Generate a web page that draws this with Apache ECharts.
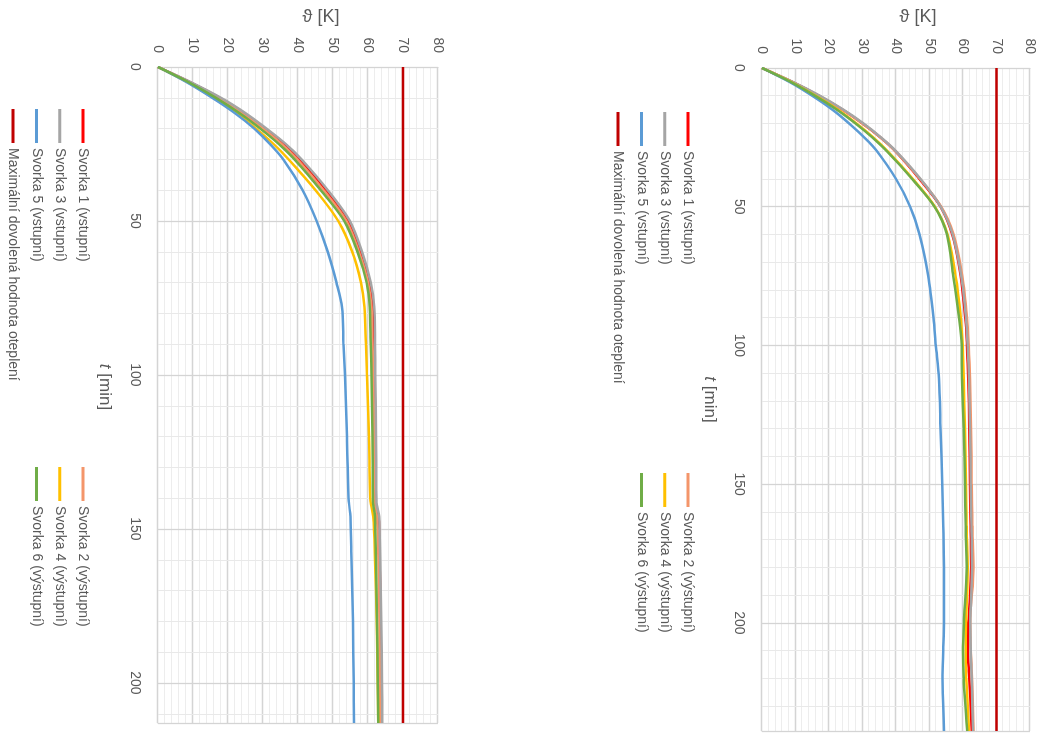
<!DOCTYPE html>
<html>
<head>
<meta charset="utf-8">
<script src="https://cdn.jsdelivr.net/npm/echarts@6/dist/echarts.min.js"></script>
<style>
  html, body { margin: 0; padding: 0; background: #fff; width: 1046px; height: 733px; overflow: hidden; }
  .chart { position: absolute; left: 0; top: 0; width: 733px; transform-origin: 0 0; }
  /* both charts are drawn upright and then turned 90deg clockwise */
  #left { height: 455px; transform: translate(455px, 0) rotate(90deg); }
  #right { height: 456px; transform: translate(1046px, 0) rotate(90deg); }
</style>
</head>
<body>
<div id="left" class="chart"></div>
<div id="right" class="chart"></div>
<script>
const seriesNames = [
  'Svorka 1 (vstupní)',
  'Svorka 2 (výstupní)',
  'Svorka 3 (vstupní)',
  'Svorka 4 (výstupní)',
  'Svorka 5 (vstupní)',
  'Svorka 6 (výstupní)',
  'Maximální dovolená hodnota oteplení',
];
const seriesColors = ['#ff0000', '#f4956a', '#a5a5a5', '#ffc000', '#5b9bd5', '#70ad47', '#c00000'];
const limitValue = 70;

// left chart, t [min]
const timeLeft = [0, 5, 10, 15, 20, 25, 30, 40, 50, 60, 70, 78, 90, 100, 120, 141, 146, 160, 180, 200, 213];
const svorka1Left = [0, 9.3, 17.5, 24.5, 30.5, 36, 40.5, 48, 54.3, 57.8, 60.3, 61.3, 61.6, 61.8, 62.1, 62.2, 63, 63.3, 63.6, 63.7, 63.8];
const svorka2Left = [0, 9, 17, 24, 30, 35.3, 39.8, 47.3, 53.8, 57.4, 60, 61, 61.3, 61.5, 61.8, 61.9, 62.6, 63, 63.3, 63.4, 63.5];
const svorka3Left = [0, 9.5, 18, 25, 31, 36.5, 41, 48.5, 54.8, 58.3, 60.8, 61.8, 62, 62.1, 62.3, 62.4, 63.2, 63.5, 63.8, 64, 64.1];
const svorka4Left = [0, 8.5, 16, 22.5, 28, 33, 37.3, 45, 51.5, 55.5, 58, 59, 59.4, 59.7, 60.3, 60.7, 61.5, 62, 62.5, 62.8, 62.9];
const svorka5Left = [0, 8.3, 15.5, 22, 27.5, 32, 35.8, 41.3, 45.3, 48.5, 51, 52.6, 53, 53.4, 54, 54.5, 55, 55.3, 55.7, 55.9, 56];
const svorka6Left = [0, 8.8, 16.5, 23.3, 29.2, 34.5, 39, 46.5, 53.2, 57, 59.6, 60.5, 60.8, 61, 61.3, 61.4, 62, 62.3, 62.6, 62.8, 62.9];

// right chart, t [min]
const timeRight = [0, 5, 10, 15, 20, 25, 30, 40, 50, 60, 75, 90, 100, 112, 130, 150, 165, 180, 200, 210, 220, 239];
const svorka1Right = [0, 9, 17, 24, 30, 35.3, 39.8, 47, 53.3, 56.8, 59.3, 60.7, 61.2, 61.6, 61.9, 62.1, 62.3, 62.5, 61.6, 61.4, 61.9, 62.6];
const svorka2Right = [0, 9, 17, 24, 30, 35.3, 39.8, 47.2, 53.5, 57.2, 59.8, 61.2, 61.7, 62.1, 62.4, 62.6, 62.8, 63.1, 62.2, 62.3, 62.7, 63.1];
const svorka3Right = [0, 9.2, 17.3, 24.3, 30.3, 35.5, 40, 47.3, 53.3, 56.9, 59.5, 60.9, 61.4, 61.8, 62.1, 62.3, 62.5, 62.7, 62.2, 62.3, 62.6, 63];
const svorka4Right = [0, 8.6, 16, 22.6, 28.2, 33.2, 37.5, 45, 51.6, 55.4, 57.8, 59.3, 59.9, 60.2, 60.6, 60.9, 61.1, 61.4, 60.9, 60.8, 61, 61.8];
const svorka5Right = [0, 8.2, 15, 21, 26, 30.5, 34.3, 40, 44.2, 47, 49.6, 51.2, 51.9, 52.8, 53.3, 53.8, 54.1, 54.3, 54.3, 54.1, 53.9, 54.3];
const svorka6Right = [0, 8.5, 15.8, 22.3, 27.9, 32.9, 37.3, 44.8, 51.5, 55.2, 57.1, 58.8, 59.6, 59.7, 60.2, 60.6, 60.8, 61.1, 60.3, 60, 60.2, 61.3];

const tempTicks = { min: 0, max: 80, interval: 10 };
const timeInterval = 50;

const font = 'Liberation Sans';
const textColor = '#595959';

const makeOption = (times, values, tMax, box) => {
  const series = values.map((vals, i) => ({
    name: seriesNames[i],
    type: 'line',
    xAxisIndex: 1,
    showSymbol: false,
    smooth: 0.3,
    color: seriesColors[i],
    lineStyle: { width: 2.5, color: seriesColors[i] },
    data: times.map((t, k) => [t, vals[k]]),
  }));
  series.push({
    name: seriesNames[6],
    type: 'line',
    xAxisIndex: 1,
    showSymbol: false,
    color: seriesColors[6],
    lineStyle: { width: 2.5, color: seriesColors[6] },
    data: [[0, limitValue], [tMax, limitValue]],
  });

  const legendBase = {
    orient: 'vertical',
    top: box.legendTop,
    icon: 'rect',
    itemWidth: 34,
    itemHeight: 3,
    itemGap: 7.3,
    selectedMode: false,
    textStyle: { color: textColor, fontSize: 14, fontFamily: font, lineHeight: 16 },
  };

  return {
    animation: false,
    grid: box.grid,
    legend: [
      { ...legendBase, left: box.legendLeft[0], data: [seriesNames[0], seriesNames[2], seriesNames[4], seriesNames[6]] },
      { ...legendBase, left: box.legendLeft[1], data: [seriesNames[1], seriesNames[3], seriesNames[5]] },
    ],
    xAxis: [
      {
        // minor lines every 10 min
        type: 'value',
        min: 0,
        max: tMax,
        interval: 10,
        axisLine: { show: false },
        axisTick: { show: false },
        axisLabel: { show: false },
        splitLine: { lineStyle: { color: '#e9e9e9', width: 1 } },
      },
      {
        type: 'value',
        min: 0,
        max: tMax,
        interval: timeInterval,
        position: 'bottom',
        axisLine: { show: true, lineStyle: { color: '#d4d4d4' } },
        axisTick: { show: false },
        axisLabel: { color: textColor, fontSize: 14, fontFamily: font, margin: 16, showMaxLabel: false },
        splitLine: { lineStyle: { color: '#d4d4d4', width: 1.3 } },
        name: '{i|t} [min]',
        nameLocation: 'middle',
        nameGap: box.nameGap,
        nameTextStyle: {
          color: textColor,
          fontSize: 17,
          fontFamily: font,
          padding: box.namePad,
          rich: { i: { fontStyle: 'italic', color: textColor, fontSize: 17, fontFamily: font } },
        },
      },
    ],
    yAxis: {
      type: 'value',
      min: tempTicks.min,
      max: tempTicks.max,
      interval: tempTicks.interval,
      axisLine: { show: true, lineStyle: { color: '#d4d4d4' } },
      axisTick: { show: false },
      axisLabel: { color: textColor, fontSize: 14, fontFamily: font, margin: 14 },
      splitLine: { lineStyle: { color: '#d4d4d4', width: 1.3 } },
      minorTick: { show: false, splitNumber: 5 },
      minorSplitLine: { show: true, lineStyle: { color: '#ededed', width: 1 } },
    },
    graphic: [
      {
        type: 'text',
        x: 17,
        y: box.titleY,
        rotation: Math.PI / 2,
        style: {
          text: 'ϑ [K]',
          fill: textColor,
          fontSize: 18,
          fontFamily: font,
          align: 'center',
          verticalAlign: 'middle',
        },
      },
    ],
    series,
  };
};

const leftChart = echarts.init(document.getElementById('left'));
leftChart.setOption(makeOption(
  timeLeft,
  [svorka1Left, svorka2Left, svorka3Left, svorka4Left, svorka5Left, svorka6Left],
  213,
  {
    grid: { left: 67, right: 10, top: 17, bottom: 158 },
    legendTop: 359,
    legendLeft: [104, 462],
    nameGap: 45,
    namePad: [0, 16, 0, 0],
    titleY: 134,
  },
));

const rightChart = echarts.init(document.getElementById('right'));
rightChart.setOption(makeOption(
  timeRight,
  [svorka1Right, svorka2Right, svorka3Right, svorka4Right, svorka5Right, svorka6Right],
  239,
  {
    grid: { left: 68, right: 2, top: 16, bottom: 172 },
    legendTop: 345,
    legendLeft: [107, 468],
    nameGap: 44,
    namePad: [0, 0, 0, 0],
    titleY: 128,
  },
));
</script>
</body>
</html>
